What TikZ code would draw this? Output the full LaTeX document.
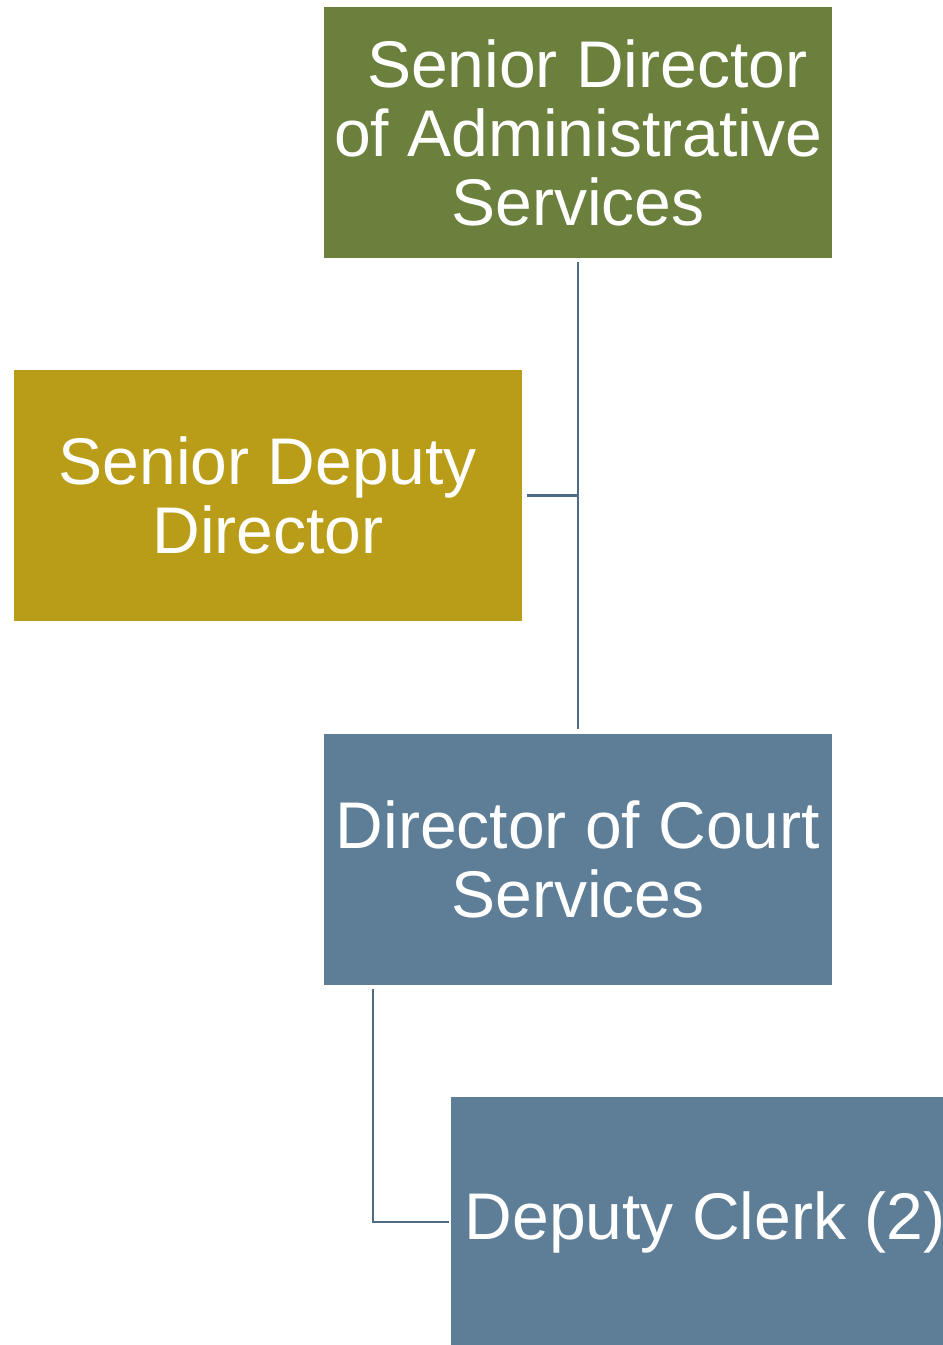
\documentclass[tikz,border=0pt]{standalone}
\usepackage{fontspec}
\setmainfont{Liberation Sans}
\usepackage{xcolor}
\usepackage{tikz}
\definecolor{admingreen}{RGB}{107,128,60}
\definecolor{deputygold}{RGB}{185,157,24}
\definecolor{courtblue}{RGB}{94,126,151}
\definecolor{linkblue}{RGB}{79,107,130}
\tikzset{
    orgbox/.style = {rectangle, minimum width = 254pt, minimum height = 125.5pt,
        inner sep = 0pt, align = center, text = white,
        font = \fontsize{33}{34.5}\selectfont},
    link/.style = {draw = linkblue, line width = 1.3pt}
}

\begin{document}
\begin{tikzpicture}[x = 0.5pt, y = -0.5pt]
        \useasboundingbox (0, 0) rectangle (943, 1345);

        \node[orgbox, fill = admingreen] (admin) at (578, 132.5) {\hspace*{0.278em}Senior Director\\of Administrative\\Services};
        \node[orgbox, fill = deputygold] (deputy) at (268, 495.5) {Senior Deputy\\Director};
        \node[orgbox, fill = courtblue] (court) at (578, 859) {Director of Court\\Services};
        \node[orgbox, fill = courtblue] (clerk) at (705, 1222) {Deputy Clerk (2)};

        \coordinate (bend) at (373, 1222);

        \draw[link, shorten < = 2pt, shorten > = 2pt] (admin.south) -- (court.north);
        \draw[link, shorten < = 2.5pt] (deputy.east) -- (deputy.east -| admin.south);
        \draw[link, shorten < = 2pt, shorten > = 1pt] (court.south -| bend) -- (bend) -- (clerk.west);
    \end{tikzpicture}
\end{document}
